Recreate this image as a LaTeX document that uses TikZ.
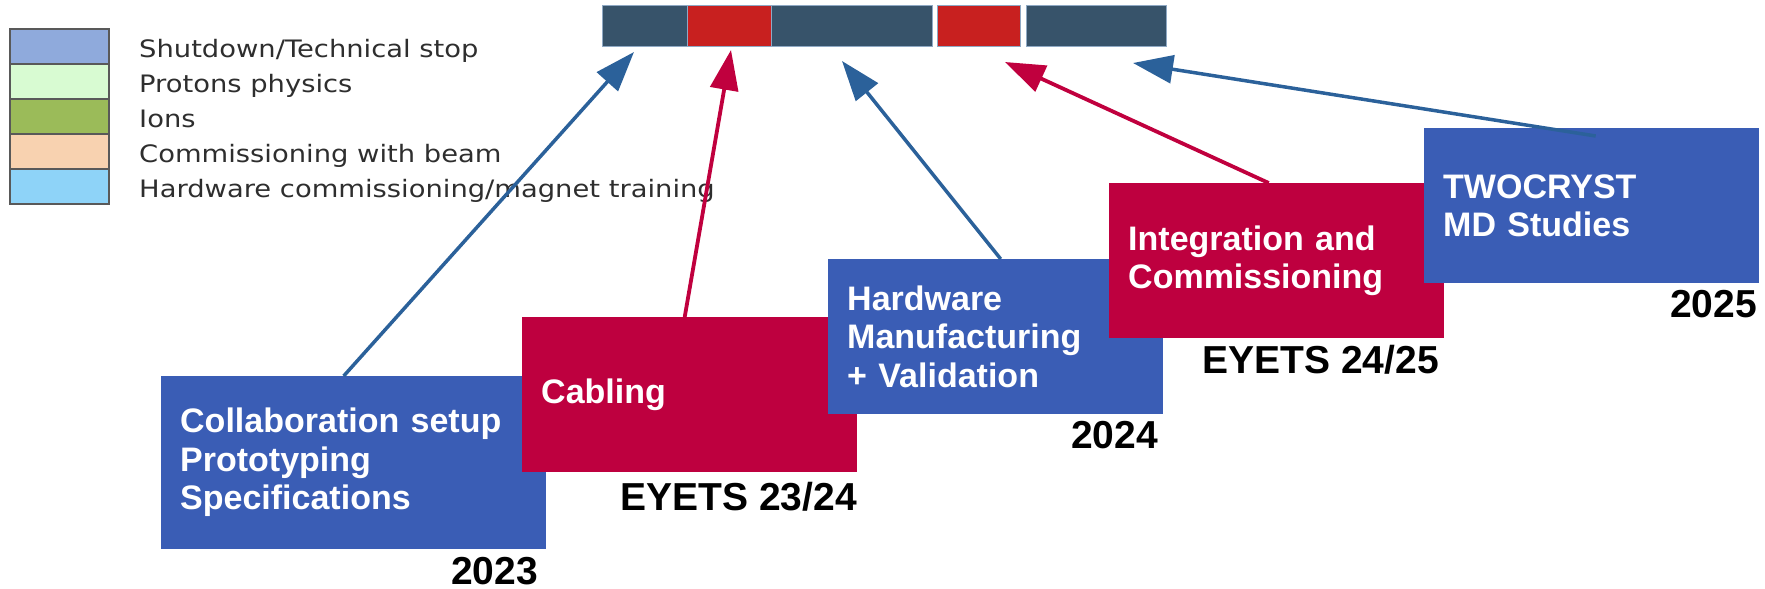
\documentclass[tikz,border=0pt]{standalone}
\usepackage{fontspec}
\setmainfont{Liberation Sans}
\newfontfamily\legendfont[FakeStretch=1.14]{DejaVu Sans}
\usetikzlibrary{arrows.meta,positioning}

\definecolor{stageblue}{HTML}{3A5DB5}
\definecolor{stagered}{HTML}{BE003F}
\definecolor{arrowblue}{HTML}{2B619A}
\definecolor{arrowred}{HTML}{C0003E}
\definecolor{bardark}{HTML}{37536A}
\definecolor{barred}{HTML}{C8201F}
\definecolor{barline}{HTML}{8FA9C4}
\definecolor{legshut}{HTML}{8FAADC}
\definecolor{legprot}{HTML}{D8FBD2}
\definecolor{legions}{HTML}{9BBB59}
\definecolor{legcomm}{HTML}{F8D2B0}
\definecolor{leghw}{HTML}{8ED3F8}
\definecolor{legtext}{HTML}{2E2E2E}

\tikzset{
	barseg/.style={draw=barline, line width=1pt, minimum height=41pt, inner sep=0pt, outer sep=0pt, anchor=north west},
	legbox/.style={draw=gray!70!black, line width=1.2pt, minimum width=99pt, minimum height=35pt, inner sep=0pt, outer sep=0pt},
	legtxt/.style={anchor=base west, text=legtext, inner sep=0pt, font=\legendfont\fontsize{24}{28}\selectfont},
	stage/.style={rectangle, text=white, inner xsep=19pt, inner ysep=0pt, align=left, anchor=north west, minimum height=155pt, text width=297pt, font=\fontsize{34}{38.5}\selectfont\bfseries},
	yearlbl/.style={anchor=base east, inner sep=0pt, font=\fontsize{39}{39}\selectfont\bfseries},
	bluearrow/.style={draw=arrowblue, line width=3.5pt, -{Triangle[length=40pt,width=28pt]}},
	redarrow/.style={draw=arrowred, line width=3.8pt, -{Triangle[length=40pt,width=28pt]}}
}

\begin{document}
\begin{tikzpicture}[x=1pt, y=-1pt]
	\useasboundingbox (0,0) rectangle (1765,589);

	% legend
	\node[legbox, fill=legshut] (leg1) at (59.5,46.5) {};
	\node[legbox, fill=legprot, below=0pt of leg1] (leg2) {};
	\node[legbox, fill=legions, below=0pt of leg2] (leg3) {};
	\node[legbox, fill=legcomm, below=0pt of leg3] (leg4) {};
	\node[legbox, fill=leghw, below=0pt of leg4] (leg5) {};
	\node[legtxt] (legt1) at (139,57) {Shutdown/Technical stop};
	\node[legtxt] (legt2) at (139,92) {Protons physics};
	\node[legtxt] (legt3) at (139,127) {Ions};
	\node[legtxt] (legt4) at (139,162) {Commissioning with beam};
	\node[legtxt] (legt5) at (139,197) {Hardware commissioning/magnet training};

	% schedule bar
	\node[barseg, fill=bardark, minimum width=85pt] (bar1) at (602,5) {};
	\node[barseg, fill=barred, minimum width=84pt, right=0pt of bar1] (bar2) {};
	\node[barseg, fill=bardark, minimum width=161pt, right=0pt of bar2] (bar3) {};
	\node[barseg, fill=barred, minimum width=83pt, right=5pt of bar3] (bar4) {};
	\node[barseg, fill=bardark, minimum width=140pt, right=6pt of bar4] (bar5) {};

	% stages
	\node[stage, fill=stageblue, text width=347pt, minimum height=173pt] (collab) at (161,376) {Collaboration setup\\Prototyping\\Specifications};
	\node[stage, fill=stagered] (cabling) at (522,317) {Cabling};
	\node[stage, fill=stageblue] (hardware) at (828,259) {Hardware\\Manufacturing\\+ Validation};
	\node[stage, fill=stagered] (integr) at (1109,183) {Integration and\\Commissioning};
	\node[stage, fill=stageblue] (twocryst) at (1424,128) {TWOCRYST\\MD Studies};

	\node[yearlbl] (y2023) at (538,584) {2023};
	\node[yearlbl] (eyets1) at (857,510) {EYETS 23/24};
	\node[yearlbl] (y2024) at (1158,448) {2024};
	\node[yearlbl] (eyets2) at (1439,373) {EYETS 24/25};
	\node[yearlbl] (y2025) at (1757,317) {2025};

	% arrows to the bar
	\coordinate (tip1) at (634,52);
	\coordinate (tip2) at (731,50);
	\coordinate (tip3) at (842,61);
	\coordinate (tip4) at (1005,62);
	\coordinate (tip5) at (1133,63);
	\draw[bluearrow] ([xshift=-10pt]collab.north) -- (tip1);
	\draw[redarrow] ([xshift=-5pt]cabling.north) -- (tip2);
	\draw[bluearrow] ([xshift=5pt]hardware.north) -- (tip3);
	\draw[redarrow] ([xshift=-8pt]integr.north) -- (tip4);
	\draw[bluearrow] ([xshift=4pt,yshift=-8pt]twocryst.north) -- (tip5);
\end{tikzpicture}
\end{document}
